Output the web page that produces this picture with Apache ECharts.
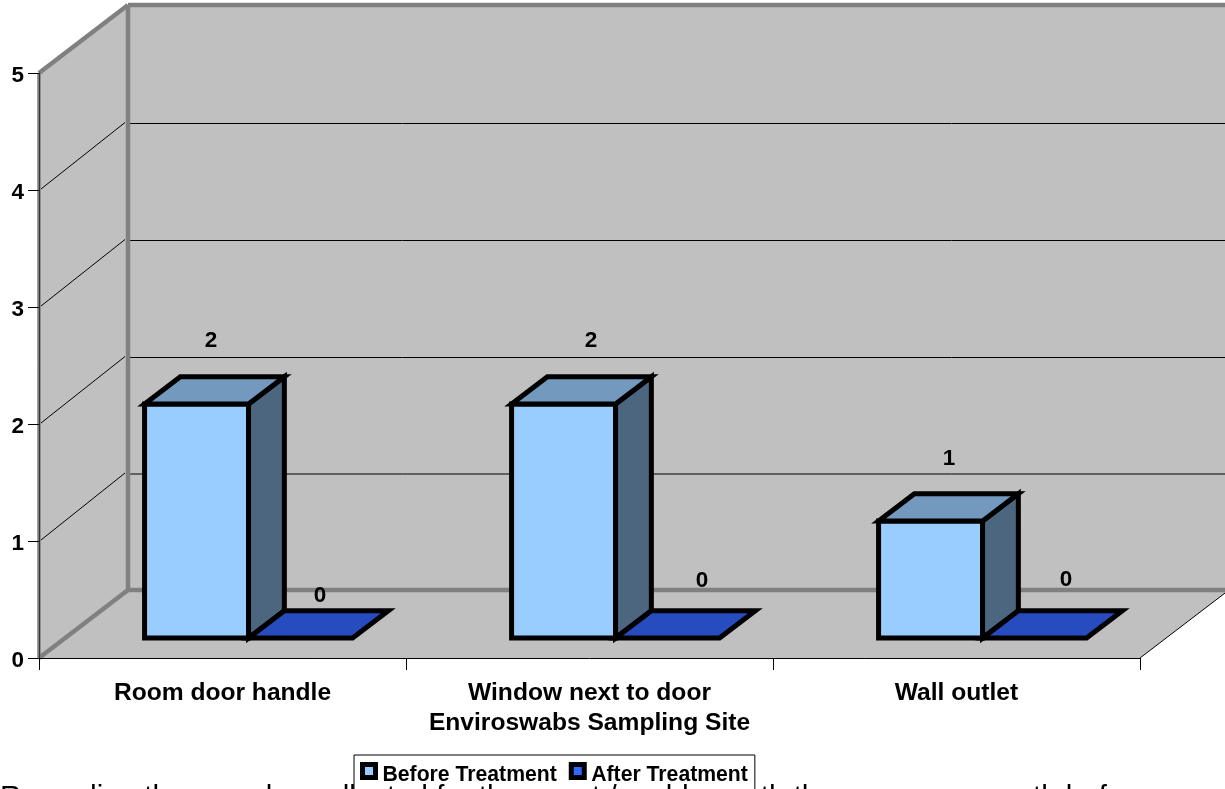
<!DOCTYPE html>
<html>
<head>
<meta charset="utf-8">
<style>html,body{margin:0;padding:0;background:#fff;overflow:hidden}#chart{width:1225px;height:789px}</style>
<script src="https://cdn.jsdelivr.net/npm/echarts@6/dist/echarts.min.js"></script>
</head>
<body>
<div id="chart"></div>
<script>
// Swab results by sampling site
const categories = ['Room door handle', 'Window next to door', 'Wall outlet'];
const beforeTreatment = [2, 2, 1];
const afterTreatment = [0, 0, 0];
const axisTitle = 'Enviroswabs Sampling Site';
const seriesNames = ['Before Treatment', 'After Treatment'];
const valueTicks = [0, 1, 2, 3, 4, 5];
const footerLine = 'Regarding the samples collected for the guest / mold growth the room one month before';

// Fake-3D projection: how far the back wall sits from the front plane, in pixels
const DEPTH_X = 89, DEPTH_Y = -68;
const BAR_NEAR = 0.293, BAR_FAR = 0.695;
const BAR_WIDTH = 104;
const WALL = '#c0c0c0', EDGE = '#808080';
const FONT = '"Liberation Sans", Arial, sans-serif';

// Data label placement relative to the front-top centre of each bar
const beforeLabelNudge = [[14.5, -63], [27.5, -63], [18.5, -62]];
const afterLabelNudge = [[19.5, -42], [34.5, -57], [31.5, -58]];

const beforeFill = {front: '#99ccff', top: '#7399bf', side: '#4d6680'};
const afterFill = {front: '#3366ff', top: '#264cbf', side: '#1a3380'};

function line(x1, y1, x2, y2, stroke, lineWidth) {
  return {type: 'line', silent: true, shape: {x1, y1, x2, y2}, style: {stroke, lineWidth}};
}
function poly(points, style) {
  return {type: 'polygon', silent: true, shape: {points}, style};
}

function renderRoom(params, api) {
  const band = api.size([1, 0])[0];
  const left = api.coord([0, 0])[0] - band / 2;
  const right = left + band * categories.length;
  const y0 = api.coord([0, 0])[1];
  const yTop = api.coord([0, valueTicks[valueTicks.length - 1]])[1];
  const bx = left + DEPTH_X, rx = right + DEPTH_X;
  const children = [
    poly([[left, yTop], [bx, yTop + DEPTH_Y], [bx, y0 + DEPTH_Y], [left, y0]], {fill: WALL}),
    poly([[bx, yTop + DEPTH_Y], [rx, yTop + DEPTH_Y], [rx, y0 + DEPTH_Y], [bx, y0 + DEPTH_Y]], {fill: WALL}),
    poly([[left, y0], [right, y0], [rx, y0 + DEPTH_Y], [bx, y0 + DEPTH_Y]], {fill: WALL})
  ];
  // gridlines across the back wall and down the side wall
  valueTicks.slice(1, -1).forEach((v) => {
    const y = api.coord([0, v])[1];
    const yBack = y + DEPTH_Y + (v === 1 ? 1 : 1.5);
    children.push(line(bx, yBack, rx, yBack, '#000', 1));
    children.push(line(left + 2, y - 1, bx - 3, yBack - 1, '#000', 1));
  });
  // heavy frame around the walls
  children.push(line(left, yTop, left, y0, EDGE, 3.5));
  children.push(line(left, yTop, bx, yTop + DEPTH_Y, EDGE, 4.5));
  children.push(line(bx, yTop + DEPTH_Y, rx, yTop + DEPTH_Y, EDGE, 4.5));
  children.push(line(bx, yTop + DEPTH_Y, bx, y0 + DEPTH_Y, EDGE, 4.5));
  children.push(line(bx, y0 + DEPTH_Y, rx, y0 + DEPTH_Y, EDGE, 4.5));
  children.push(line(left, y0, bx, y0 + DEPTH_Y, EDGE, 4.5));
  children.push(line(right, y0, rx, y0 + DEPTH_Y, '#000', 1));
  return {type: 'group', children};
}

function barRenderer(seriesIndex, fill, nudge) {
  return function (params, api) {
    const cat = api.value(0), val = api.value(1);
    const center = api.coord([cat, 0])[0];
    const yBase = api.coord([cat, 0])[1];
    const yVal = api.coord([cat, val])[1];
    const xl = center - BAR_WIDTH + seriesIndex * BAR_WIDTH + DEPTH_X * BAR_NEAR;
    const xr = xl + BAR_WIDTH;
    const yb = yBase + DEPTH_Y * BAR_NEAR;
    const yt = yVal + DEPTH_Y * BAR_NEAR;
    const dx = DEPTH_X * (BAR_FAR - BAR_NEAR), dy = DEPTH_Y * (BAR_FAR - BAR_NEAR);
    const stroke = {stroke: '#000', lineWidth: 5, lineJoin: 'miter', miterLimit: 20};
    const children = [];
    if (val > 0) {
      children.push(poly([[xl, yt], [xr, yt], [xr, yb], [xl, yb]], {fill: fill.front, ...stroke}));
      children.push(poly([[xr, yt], [xr + dx, yt + dy], [xr + dx, yb + dy], [xr, yb]], {fill: fill.side, ...stroke}));
    }
    children.push(poly([[xl, yt], [xr, yt], [xr + dx, yt + dy], [xl + dx, yt + dy]], {fill: fill.top, ...stroke}));
    const [nx, ny] = nudge[cat];
    children.push({
      type: 'text', silent: true,
      style: {
        text: String(val), x: (xl + xr) / 2 + nx, y: yt + ny,
        textAlign: 'center', textVerticalAlign: 'middle',
        font: 'bold 22.5px ' + FONT, fill: '#000'
      }
    });
    return {type: 'group', children};
  };
}

const toPairs = (values) => values.map((v, i) => [i, v]);
const legendLabel = {color: '#000', fontFamily: FONT, fontWeight: 'bold', fontSize: 21.2};
const tickLabel = {color: '#000', fontFamily: FONT, fontWeight: 'bold', fontSize: 22.5};
const chart = echarts.init(document.getElementById('chart'), null, {renderer: 'canvas'});
chart.setOption({
  animation: false,
  backgroundColor: '#fff',
  grid: {left: 39, right: 85, top: 73, bottom: 131, containLabel: false},
  xAxis: {
    type: 'category', data: categories, z: 5,
    axisLine: {lineStyle: {color: '#000', width: 1}},
    axisTick: {show: true, length: 12, lineStyle: {color: '#000', width: 1}},
    axisLabel: {margin: 23, color: '#000', fontFamily: FONT, fontWeight: 'bold', fontSize: 24.6, interval: 0},
    name: axisTitle, nameLocation: 'middle', nameGap: 53,
    nameTextStyle: {color: '#000', fontFamily: FONT, fontWeight: 'bold', fontSize: 24.6}
  },
  yAxis: {
    type: 'value', min: 0, max: 5, interval: 1, z: 5,
    splitLine: {show: false},
    axisLine: {show: true, lineStyle: {color: '#333', width: 1}},
    axisTick: {show: true, length: 11, lineStyle: {color: '#000', width: 1}},
    axisLabel: {margin: 15, ...tickLabel, formatter: '{v|{value}}', rich: {v: {...tickLabel, padding: [5, 0, 0, 0]}}}
  },
  legend: {
    left: 354, top: 755, padding: [7, 7, 7, 6], itemGap: 12,
    itemWidth: 13, itemHeight: 13, icon: 'rect',
    backgroundColor: '#fff', borderColor: '#000', borderWidth: 1, z: 8,
    itemStyle: {borderColor: '#000', borderWidth: 5},
    formatter: (name) => '{t|' + name + '}',
    textStyle: {...legendLabel, rich: {t: {...legendLabel, padding: [8, 0, 0, 2]}}},
    data: seriesNames
  },
  series: [
    {type: 'custom', name: 'room', z: 1, silent: true, clip: false, data: [[0, 0]],
      encode: {x: 0, y: 1}, renderItem: renderRoom},
    {type: 'custom', name: seriesNames[0], z: 6, clip: false, data: toPairs(beforeTreatment),
      encode: {x: 0, y: 1}, itemStyle: {color: beforeFill.front},
      renderItem: barRenderer(0, beforeFill, beforeLabelNudge)},
    {type: 'custom', name: seriesNames[1], z: 7, clip: false, data: toPairs(afterTreatment),
      encode: {x: 0, y: 1}, itemStyle: {color: afterFill.front},
      renderItem: barRenderer(1, afterFill, afterLabelNudge)}
  ],
  graphic: [{
    type: 'text', z: 20, x: 0, y: 783, silent: true,
    style: {text: footerLine, font: '29.5px ' + FONT, fill: '#000', textVerticalAlign: 'top'}
  }]
});
</script>
</body>
</html>
